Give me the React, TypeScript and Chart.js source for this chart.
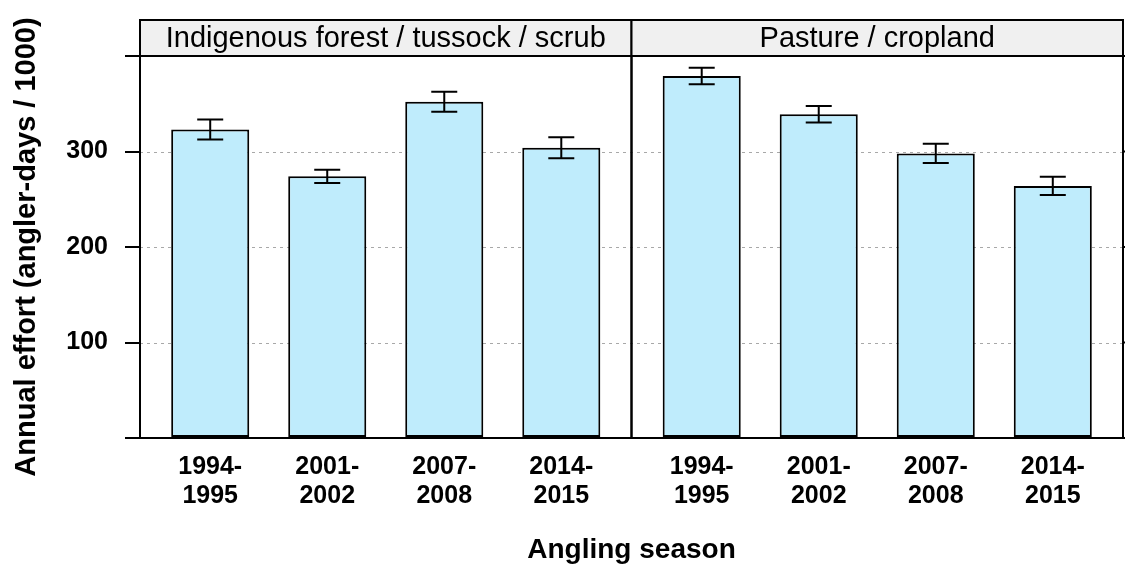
import React, { useEffect, useRef } from 'react';
import { Chart, registerables } from 'chart.js';

Chart.register(...registerables);

const seasons = ['1994-1995', '2001-2002', '2007-2008', '2014-2015'];
const panels = ['Indigenous forest / tussock / scrub', 'Pasture / cropland'];
const forestEffort = [323, 274, 352, 304];
const forestError = [10.5, 7, 10.5, 11];
const pastureEffort = [379, 339, 298, 264];
const pastureError = [8.7, 8.7, 10, 9.6];
const yTicks = [0, 100, 200, 300, 400];
const yLabelled = [100, 200, 300];

const PANEL_SPAN = 4.2; // lattice-style x range per panel: 0.4 .. 4.6
const positions = panels.flatMap((_, p) => seasons.map((_, i) => p * PANEL_SPAN + i + 1));
const values = [...forestEffort, ...pastureEffort];
const errors = [...forestError, ...pastureError];

const FONT = "'Liberation Sans', Arial, sans-serif";
const STRIP_H = 36;

const panelPlugin = {
  id: 'panelPlugin',
  beforeDatasetsDraw(chart: any) {
    const { ctx, chartArea: ca, scales } = chart;
    const y = scales.y;
    ctx.save();
    ctx.strokeStyle = '#a8a8a8';
    ctx.lineWidth = 1;
    ctx.setLineDash([3, 4]);
    yLabelled.forEach((v) => {
      const py = Math.round(y.getPixelForValue(v)) + 0.5;
      ctx.beginPath();
      ctx.moveTo(ca.left, py);
      ctx.lineTo(ca.right, py);
      ctx.stroke();
    });
    ctx.restore();
  },
  afterDatasetsDraw(chart: any) {
    const { ctx, scales } = chart;
    const y = scales.y;
    const meta = chart.getDatasetMeta(0);
    ctx.save();
    ctx.strokeStyle = '#000';
    ctx.lineWidth = 2;
    meta.data.forEach((bar: any, i: number) => {
      const x = bar.x;
      const top = y.getPixelForValue(values[i] + errors[i]);
      const bot = y.getPixelForValue(values[i] - errors[i]);
      const hw = 13;
      ctx.beginPath();
      ctx.moveTo(x, top);
      ctx.lineTo(x, bot);
      ctx.moveTo(x - hw, top);
      ctx.lineTo(x + hw, top);
      ctx.moveTo(x - hw, bot);
      ctx.lineTo(x + hw, bot);
      ctx.stroke();
    });
    ctx.restore();
  },
  afterDraw(chart: any) {
    const { ctx, chartArea: ca, scales } = chart;
    const x = scales.x;
    const y = scales.y;
    const bounds = panels.map((_, p) => [
      p === 0 ? ca.left : x.getPixelForValue(p * PANEL_SPAN + 0.4),
      p === panels.length - 1 ? ca.right : x.getPixelForValue((p + 1) * PANEL_SPAN + 0.4),
    ]);
    ctx.save();
    // strips
    bounds.forEach(([l, r], p) => {
      ctx.fillStyle = '#f0f0f0';
      ctx.fillRect(l, ca.top - STRIP_H, r - l, STRIP_H);
      ctx.strokeStyle = '#000';
      ctx.lineWidth = 2;
      ctx.strokeRect(l, ca.top - STRIP_H, r - l, STRIP_H);
      ctx.fillStyle = '#000';
      ctx.font = `29px ${FONT}`;
      ctx.textAlign = 'center';
      ctx.textBaseline = 'middle';
      ctx.fillText(panels[p], (l + r) / 2, ca.top - STRIP_H / 2 + 1);
    });
    // panel boxes
    ctx.strokeStyle = '#000';
    ctx.lineWidth = 2;
    bounds.forEach(([l, r]) => {
      ctx.strokeRect(l, ca.top, r - l, ca.bottom - ca.top);
    });
    // right-side ticks
    yTicks.forEach((v) => {
      const py = y.getPixelForValue(v);
      ctx.beginPath();
      ctx.moveTo(ca.right, py);
      ctx.lineTo(ca.right + 15, py);
      ctx.stroke();
    });
    ctx.restore();
  },
};

export default function App() {
  const ref = useRef<HTMLCanvasElement>(null);
  useEffect(() => {
    if (!ref.current) return;
    Chart.defaults.color = '#000';
    const chart = new Chart(ref.current, {
      type: 'bar',
      data: {
        datasets: [
          {
            data: positions.map((px, i) => ({ x: px, y: values[i] })),
            backgroundColor: 'rgb(191,236,252)',
            borderColor: '#000',
            borderWidth: 2,
            borderSkipped: false,
            barPercentage: 0.667,
            categoryPercentage: 1,
          },
        ],
      },
      options: {
        responsive: false,
        animation: false,
        layout: { padding: { top: 56, right: 2, left: 0, bottom: 0 } },
        plugins: { legend: { display: false }, tooltip: { enabled: false } },
        scales: {
          x: {
            type: 'linear',
            min: 0.4,
            max: panels.length * PANEL_SPAN + 0.4,
            offset: false,
            grid: { display: false, drawTicks: false },
            border: { display: false },
            afterBuildTicks: (scale: any) => {
              scale.ticks = positions.map((v) => ({ value: v }));
            },
            afterFit: (scale: any) => {
              scale.height = 129;
            },
            ticks: {
              autoSkip: false,
              maxRotation: 0,
              minRotation: 0,
              padding: 15,
              color: '#000',
              font: { family: FONT, size: 25, weight: 'bold', lineHeight: 1.16 },
              callback: (_v: any, i: number) => {
                const s = seasons[i % seasons.length];
                const [a, b] = s.split('-');
                return [a + '-', b];
              },
            },
            title: {
              display: true,
              text: 'Angling season',
              color: '#000',
              font: { family: FONT, size: 28, weight: 'bold' },
              padding: { top: 0, bottom: 0 },
            },
          },
          y: {
            min: 0,
            max: 400,
            afterBuildTicks: (scale: any) => {
              scale.ticks = yTicks.map((v) => ({ value: v }));
            },
            afterFit: (scale: any) => {
              scale.width = 140;
            },
            grid: {
              display: true,
              drawOnChartArea: false,
              drawTicks: true,
              tickLength: 15,
              color: '#000',
              lineWidth: 2,
            },
            border: { display: false },
            ticks: {
              padding: 17,
              color: '#000',
              font: { family: FONT, size: 25, weight: 'bold' },
              callback: (v: any) => (yLabelled.includes(v) ? String(v) : ''),
            },
            title: {
              display: true,
              text: 'Annual effort (angler-days / 1000)',
              color: '#000',
              font: { family: FONT, size: 29, weight: 'bold' },
              padding: { top: 10, bottom: 0 },
            },
          },
        },
      },
      plugins: [panelPlugin],
    } as any);
    return () => chart.destroy();
  }, []);
  return (
    <div style={{ position: 'absolute', left: 0, top: 0, width: 1125, height: 567, background: '#fff' }}>
      <canvas ref={ref} width={1125} height={567} style={{ width: 1125, height: 567, display: 'block' }} />
    </div>
  );
}
